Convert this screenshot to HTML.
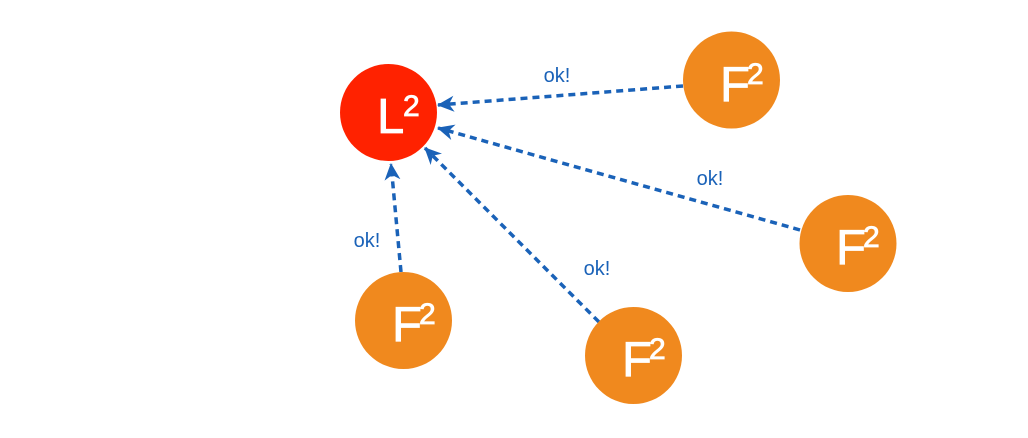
<!DOCTYPE html>
<html><head><meta charset="utf-8"><style>
html,body{margin:0;padding:0;background:#fff;width:1028px;height:438px;overflow:hidden}
</style></head><body>
<svg width="1028" height="438" viewBox="0 0 1028 438" xmlns="http://www.w3.org/2000/svg">
<defs>
<marker id="a" markerWidth="18" markerHeight="18" refX="16" refY="9" orient="auto" markerUnits="userSpaceOnUse">
<path d="M0,1 L17,9 L0,17 L5,9 Z" fill="#1a62b8"/>
</marker>
</defs>
<g stroke="#1a62b8" stroke-width="3.5" stroke-dasharray="7,5" fill="none" marker-end="url(#a)">
<line x1="683" y1="86" x2="438" y2="105"/>
<line x1="800" y1="230" x2="438" y2="128"/>
<line x1="401" y1="272" x2="391" y2="164"/>
<line x1="599" y1="322" x2="425" y2="148"/>
</g>
<g font-family="Liberation Sans, sans-serif" font-size="20" fill="#1a62b8" text-anchor="middle">
<text x="557" y="82">ok!</text>
<text x="710" y="185">ok!</text>
<text x="367" y="247">ok!</text>
<text x="597" y="275">ok!</text>
</g>
<circle cx="388.5" cy="112.5" r="48.5" fill="#ff2200"/>
<circle cx="731.5" cy="80" r="48.5" fill="#f0891e"/>
<circle cx="848" cy="243.5" r="48.5" fill="#f0891e"/>
<circle cx="403.5" cy="320.5" r="48.5" fill="#f0891e"/>
<circle cx="633.5" cy="355.5" r="48.5" fill="#f0891e"/>
<g font-family="Liberation Sans, sans-serif" fill="#fff" stroke="#fff" stroke-width="0.8">
<text x="377" y="133" font-size="49">L</text><text x="403" y="116" font-size="30">2</text>
<text x="720" y="101" font-size="49">F</text><text x="747" y="84" font-size="30">2</text>
<text x="836" y="264" font-size="49">F</text><text x="863" y="247" font-size="30">2</text>
<text x="392" y="341" font-size="49">F</text><text x="419" y="324" font-size="30">2</text>
<text x="622" y="376" font-size="49">F</text><text x="649" y="359" font-size="30">2</text>
</g>
</svg>
</body></html>
